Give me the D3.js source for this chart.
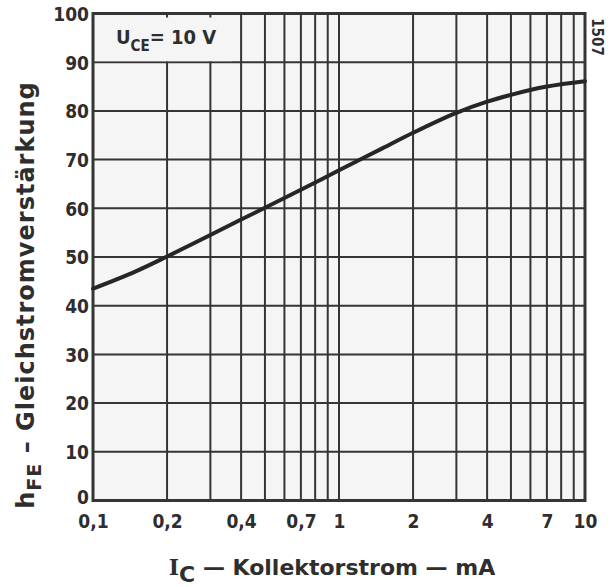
<!DOCTYPE html>
<html>
<head>
<meta charset="utf-8">
<script src="https://cdn.jsdelivr.net/npm/d3@7"></script>
<style>
  html, body { margin: 0; padding: 0; background: #fff; }
  svg { display: block; }
  text { font-family: "DejaVu Sans Condensed", "DejaVu Sans", sans-serif; fill: #2e2e2e; font-weight: bold; }
</style>
</head>
<body>
<script>
// Collector current (mA) and DC current gain
const collectorCurrent = [0.1, 0.15, 0.2, 0.3, 0.4, 0.5, 0.7, 1, 1.5, 2, 3, 4, 5, 7, 10];
const currentGain      = [43.5, 47.1, 50.1, 54.5, 57.7, 60.1, 63.8, 67.8, 72.3, 75.5, 79.6, 81.9, 83.3, 85.0, 86.1];

// Axis ticks and their printed labels (German decimal comma)
const xTickValues = [0.1, 0.2, 0.4, 0.7, 1, 2, 4, 7, 10];
const xTickLabels = ["0,1", "0,2", "0,4", "0,7", "1", "2", "4", "7", "10"];
const yTickValues = [0, 10, 20, 30, 40, 50, 60, 70, 80, 90, 100];

const W = 611, H = 587;
const plotL = 93, plotR = 585, plotT = 13.5, plotB = 500.5;

const svg = d3.select("body").append("svg").attr("width", W).attr("height", H);

const x = d3.scaleLog().domain([0.1, 10]).range([plotL, plotR]);
const y = d3.scaleLinear().domain([0, 100]).range([plotB, plotT]);

// Plot background
svg.append("rect")
  .attr("x", plotL).attr("y", plotT)
  .attr("width", plotR - plotL).attr("height", plotB - plotT)
  .attr("fill", "#f5f5f5");

// Grid
const ink = "#353535";
svg.append("g").selectAll("line").data(x.ticks())
  .join("line")
  .attr("x1", d => x(d)).attr("x2", d => x(d))
  .attr("y1", plotT).attr("y2", plotB)
  .attr("stroke", ink).attr("stroke-width", 2);

svg.append("g").selectAll("line").data(yTickValues)
  .join("line")
  .attr("x1", plotL).attr("x2", plotR)
  .attr("y1", d => y(d)).attr("y2", d => y(d))
  .attr("stroke", ink).attr("stroke-width", 2);

// Box behind the condition label
svg.append("rect")
  .attr("x", plotL + 1).attr("y", plotT + 4)
  .attr("width", x(0.37) - plotL - 2).attr("height", y(90) - plotT - 5)
  .attr("fill", "#f5f5f5");

// Frame
svg.append("rect")
  .attr("x", plotL).attr("y", plotT)
  .attr("width", plotR - plotL).attr("height", plotB - plotT)
  .attr("fill", "none").attr("stroke", ink).attr("stroke-width", 3);

// Curve
const pts = collectorCurrent.map((c, i) => [c, currentGain[i]]);
svg.append("path")
  .datum(pts)
  .attr("fill", "none")
  .attr("stroke", "#262626")
  .attr("stroke-width", 4)
  .attr("stroke-linecap", "round")
  .attr("d", d3.line().x(d => x(d[0])).y(d => y(d[1])).curve(d3.curveMonotoneX));

// Axes
const yAxis = svg.append("g")
  .attr("transform", `translate(${plotL},0)`)
  .call(d3.axisLeft(y).tickValues(yTickValues).tickSize(0).tickPadding(4).tickFormat(d3.format("d")));
yAxis.select(".domain").remove();
yAxis.selectAll("text")
  .style("font-size", "19px").attr("fill", "#2e2e2e")
  .attr("dy", d => d === 0 ? "0.18em" : "0.36em");

const xAxis = svg.append("g")
  .attr("transform", `translate(0,${plotB})`)
  .call(d3.axisBottom(x).tickValues(xTickValues).tickSize(0).tickPadding(14)
    .tickFormat((d, i) => xTickLabels[i]));
xAxis.select(".domain").remove();
xAxis.selectAll("text").style("font-size", "19px").attr("fill", "#2e2e2e");

// Condition label
const cond = svg.append("text").attr("x", 116).attr("y", 44).style("font-size", "20px");
cond.append("tspan").text("U");
cond.append("tspan").attr("dy", 7).style("font-size", "15px").text("CE");
cond.append("tspan").attr("dy", -7).text("= 10 V");

// Figure number
svg.append("text")
  .attr("transform", "translate(592,37) rotate(90)")
  .attr("text-anchor", "middle")
  .style("font-size", "15px")
  .text("1507");

// X axis title
const xt = svg.append("text")
  .attr("x", 332).attr("y", 575)
  .attr("text-anchor", "middle")
  .style("font-family", "'DejaVu Sans', sans-serif")
  .style("font-size", "22px");
xt.append("tspan").style("font-family", "'DejaVu Serif', serif").text("I");
xt.append("tspan").attr("dy", 7).text("C");
xt.append("tspan").attr("dy", -7).text(" \u2014 Kollektorstrom \u2014 mA");

// Y axis title
const yt = svg.append("text")
  .attr("transform", "translate(34,295) rotate(-90)")
  .attr("text-anchor", "middle")
  .style("font-family", "'DejaVu Sans', sans-serif")
  .style("font-size", "24px")
  .style("letter-spacing", "1px");
yt.append("tspan").text("h");
yt.append("tspan").attr("dy", 7).style("font-size", "19px").text("FE");
yt.append("tspan").attr("dy", -7).text(" \u2013 Gleichstromverstärkung");
</script>
</body>
</html>
